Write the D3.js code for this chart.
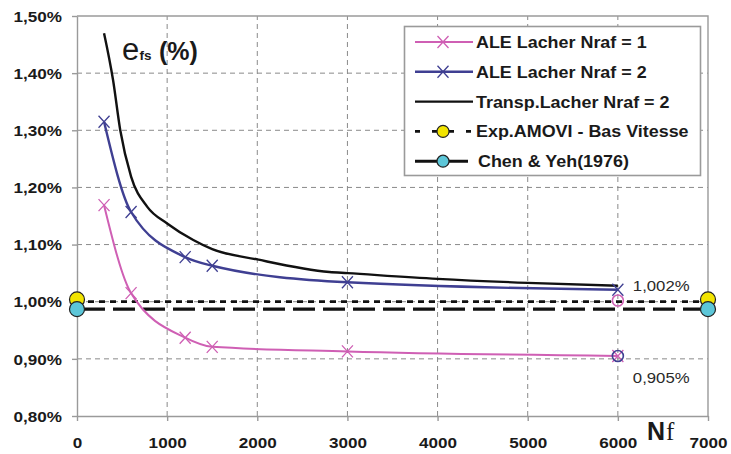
<!DOCTYPE html>
<html>
<head>
<meta charset="utf-8">
<script src="https://cdn.jsdelivr.net/npm/d3@7"></script>
<style>
  body { margin: 0; background: #fff; }
  svg { display: block; }
</style>
</head>
<body>
<svg id="chart" width="731" height="454"></svg>
<script>
// Axis ticks
const nfTicks = [0, 1000, 2000, 3000, 4000, 5000, 6000, 7000];
const pctTicks = [0.80, 0.90, 1.00, 1.10, 1.20, 1.30, 1.40, 1.50];

// ALE Lacher runs (mesh sizes Nf and error e_fs in %)
const nfAle = [300, 600, 1200, 1500, 3000, 6000];
const eAleNraf1 = [1.169, 1.015, 0.937, 0.921, 0.913, 0.905];
const eAleNraf2 = [1.315, 1.157, 1.078, 1.063, 1.034, 1.021];

// Transpiration Lacher Nraf = 2 (continuous curve)
const nfTransp = [300, 400, 480, 600, 780, 1000, 1290, 1500, 2000, 2800, 3000, 4000, 5000, 6000];
const eTransp = [1.470, 1.388, 1.300, 1.219, 1.166, 1.137, 1.108, 1.092, 1.074, 1.052, 1.050, 1.040, 1.033, 1.028];

// Reference levels
const nfRef = [0, 7000];
const eExpAmovi = 1.000;
const eChenYeh = 0.987;

// Values marked at Nf = 6000
const nfMarked = 6000;
const eMarked = [1.002, 0.905];

const seriesNames = [
  "ALE Lacher Nraf = 1",
  "ALE Lacher Nraf = 2",
  "Transp.Lacher Nraf = 2",
  "Exp.AMOVI - Bas Vitesse",
  "Chen & Yeh(1976)"
];

const PINK = "#cf5fb4";
const BLUE = "#3f3f92";
const BLACK = "#111";
const YELLOW = "#f2e400";
const CYAN = "#5cc6d8";
const GRID = "#8a8a8a";
const SANS = '"Liberation Sans", Arial, sans-serif';
const SERIF = '"Liberation Serif", "Times New Roman", serif';

const svg = d3.select("#chart");
const W = 731, H = 454;
const m = { left: 77, top: 16, right: 23, bottom: 38 };

const x = d3.scaleLinear().domain([0, 7000]).range([m.left, W - m.right]);
const y = d3.scaleLinear().domain([0.80, 1.50]).range([H - m.bottom, m.top]);

const pct = (v, d) => d3.format("." + d + "f")(v).replace(".", ",") + "%";

function font(sel, size, weight, family) {
  return sel.style("font-family", family || SANS).style("font-size", size + "px")
    .style("font-weight", weight || "normal").style("fill", "#1a1a1a");
}

// Gridlines
const grid = svg.append("g").attr("stroke", GRID).attr("stroke-width", 1).attr("stroke-dasharray", "5,4");
grid.selectAll("line.h").data(pctTicks.slice(1, -1)).join("line")
  .attr("x1", x(0)).attr("x2", x(7000))
  .attr("y1", d => y(d)).attr("y2", d => y(d));
grid.selectAll("line.v").data(nfTicks.slice(1, -1)).join("line")
  .attr("y1", y(0.8)).attr("y2", y(1.5))
  .attr("x1", d => x(d)).attr("x2", d => x(d));

// Plot frame (top and right sides)
svg.append("path")
  .attr("d", `M${x(0)},${y(1.5)}H${x(7000)}V${y(0.8)}`)
  .attr("fill", "none").attr("stroke", "#9a9a9a").attr("stroke-width", 1.4);

// Axes
const yAxis = svg.append("g").attr("transform", `translate(${x(0)},0)`)
  .call(d3.axisLeft(y).tickValues(pctTicks).tickSize(5).tickSizeOuter(0).tickFormat(d => pct(d, 2)));
const xAxis = svg.append("g").attr("transform", `translate(0,${y(0.8)})`)
  .call(d3.axisBottom(x).tickValues(nfTicks).tickSize(5).tickSizeOuter(0).tickFormat(d3.format("d")));
[yAxis, xAxis].forEach(a => {
  a.select(".domain").attr("stroke", "#9a9a9a").attr("stroke-width", 1.4);
  a.selectAll(".tick line").attr("stroke", "#9a9a9a").attr("stroke-width", 1.4);
});
font(yAxis.selectAll("text"), 14.5, "bold").attr("x", 0).attr("dy", "0.36em")
  .attr("transform", "translate(-15,0) scale(1.18,1)");
font(xAxis.selectAll("text"), 15, "bold").attr("y", 0).attr("dy", 0)
  .attr("transform", "translate(0,32) scale(1.14,1)");

// Reference levels
svg.append("line")
  .attr("x1", x(nfRef[0])).attr("x2", x(nfRef[1]))
  .attr("y1", y(eExpAmovi)).attr("y2", y(eExpAmovi))
  .attr("stroke", BLACK).attr("stroke-width", 2.8).attr("stroke-dasharray", "6,5");
svg.append("line")
  .attr("x1", x(nfRef[0])).attr("x2", x(nfRef[1]))
  .attr("y1", y(eChenYeh)).attr("y2", y(eChenYeh))
  .attr("stroke", BLACK).attr("stroke-width", 3.2).attr("stroke-dasharray", "22,8")
  .attr("stroke-dashoffset", -6);

// Curves
const line = d3.line().x(d => x(d[0])).y(d => y(d[1])).curve(d3.curveMonotoneX);
const zip = (a, b) => a.map((v, i) => [v, b[i]]);

svg.append("path").datum(zip(nfTransp, eTransp)).attr("d", line)
  .attr("fill", "none").attr("stroke", BLACK).attr("stroke-width", 2.4);
svg.append("path").datum(zip(nfAle, eAleNraf2)).attr("d", line)
  .attr("fill", "none").attr("stroke", BLUE).attr("stroke-width", 2.4);
svg.append("path").datum(zip(nfAle, eAleNraf1)).attr("d", line)
  .attr("fill", "none").attr("stroke", PINK).attr("stroke-width", 2);

// Cross markers
const cross = "M-5.5,-6L5.5,6M-5.5,6L5.5,-6";
function crosses(xs, ys, color) {
  svg.append("g").selectAll("path").data(zip(xs, ys)).join("path")
    .attr("transform", d => `translate(${x(d[0])},${y(d[1])})`)
    .attr("d", cross).attr("stroke", color).attr("stroke-width", 1.3).attr("fill", "none");
}
crosses(nfAle, eAleNraf2, BLUE);
crosses(nfAle, eAleNraf1, PINK);

// Marked values at Nf = 6000
const markColors = [PINK, BLUE];
svg.append("g").selectAll("circle").data(eMarked).join("circle")
  .attr("cx", x(nfMarked)).attr("cy", d => y(d)).attr("r", 5.5)
  .attr("fill", "none").attr("stroke", (d, i) => markColors[i]).attr("stroke-width", 1.6);
const markDy = [-10, 27];
font(svg.append("g").selectAll("text").data(eMarked).join("text"), 15.5)
  .style("fill", "#2a2a2a")
  .attr("transform", (d, i) => `translate(${x(nfMarked) + 15},${y(d) + markDy[i]}) scale(1.08,1)`)
  .text(d => pct(d, 3));

// Reference end markers
function endDots(level, color) {
  svg.append("g").selectAll("circle").data(nfRef).join("circle")
    .attr("cx", d => x(d)).attr("cy", y(level)).attr("r", 7.5)
    .attr("fill", color).attr("stroke", "#222").attr("stroke-width", 1.2);
}
endDots(eExpAmovi + 0.004, YELLOW);
endDots(eChenYeh, CYAN);

// Axis titles
font(svg.append("text"), 31).attr("x", 122).attr("y", 60).text("e");
font(svg.append("text"), 13.5, "bold").attr("x", 139.5).attr("y", 60).text("fs");
font(svg.append("text"), 25, "bold").attr("x", 159).attr("y", 60).text("(%)");
font(svg.append("text"), 25, "bold").attr("x", 647).attr("y", 440).text("N");
font(svg.append("text"), 25, "normal", SERIF).attr("x", 666).attr("y", 440).text("f");

// Legend
const lg = svg.append("g");
lg.append("rect").attr("x", 404.5).attr("y", 26.5).attr("width", 296).attr("height", 149)
  .attr("fill", "#fff").attr("stroke", "#9a9a9a").attr("stroke-width", 1.6);
const rowY = i => 42 + i * 29.8;
const sx0 = 415, sx1 = 473, sxc = 443;
seriesNames.forEach((name, i) => {
  const yy = rowY(i);
  const row = lg.append("g");
  if (i === 0 || i === 1) {
    const c = i === 0 ? PINK : BLUE;
    row.append("line").attr("x1", sx0).attr("x2", sx1).attr("y1", yy).attr("y2", yy)
      .attr("stroke", c).attr("stroke-width", i === 0 ? 2 : 2.4);
    row.append("path").attr("transform", `translate(${sxc},${yy})`).attr("d", cross)
      .attr("stroke", c).attr("stroke-width", 1.3).attr("fill", "none");
  } else if (i === 2) {
    row.append("line").attr("x1", sx0).attr("x2", sx1).attr("y1", yy).attr("y2", yy)
      .attr("stroke", BLACK).attr("stroke-width", 2.4);
  } else if (i === 3) {
    row.append("line").attr("x1", sx0).attr("x2", sx1).attr("y1", yy).attr("y2", yy)
      .attr("stroke", BLACK).attr("stroke-width", 2.6).attr("stroke-dasharray", "5,12");
    row.append("circle").attr("cx", sxc).attr("cy", yy).attr("r", 6)
      .attr("fill", YELLOW).attr("stroke", "#222").attr("stroke-width", 1.2);
  } else {
    row.append("line").attr("x1", sx0).attr("x2", 468).attr("y1", yy).attr("y2", yy)
      .attr("stroke", BLACK).attr("stroke-width", 3);
    row.append("circle").attr("cx", sxc).attr("cy", yy).attr("r", 6)
      .attr("fill", CYAN).attr("stroke", "#222").attr("stroke-width", 1.2);
  }
  font(row.append("text"), 16, "bold")
    .attr("transform", `translate(${i === 4 ? 478 : 476},${yy + 6}) scale(1.12,1)`)
    .text(name);
});
</script>
</body>
</html>
